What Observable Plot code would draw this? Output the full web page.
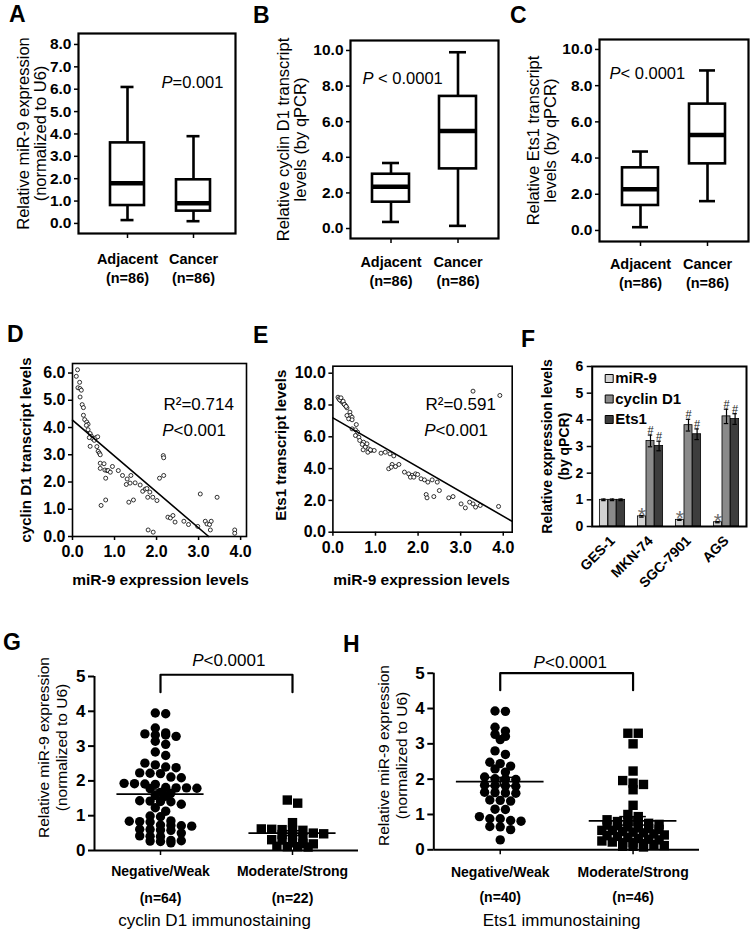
<!DOCTYPE html>
<html><head><meta charset="utf-8">
<script src="https://cdn.jsdelivr.net/npm/d3@7"></script>
<script src="https://cdn.jsdelivr.net/npm/@observablehq/plot@0.6"></script>
<style>
html,body{margin:0;padding:0;background:#fff;}
#fig{position:relative;width:754px;height:931px;overflow:hidden;background:#fff;}
.panel{position:absolute;}
.letter{position:absolute;font-family:"Liberation Sans",Arial,sans-serif;font-weight:bold;font-size:23px;line-height:23px;color:#000;}
</style></head><body><div id="fig"></div>
<script>
// ---------------- DATA ----------------
// A-C box plots
const boxCats = ["Adjacent", "Cancer"];
const boxN = ["(n=86)", "(n=86)"];
const aLow = [0.15, 0.10], aQ1 = [0.80, 0.55], aMed = [1.80, 0.90], aQ3 = [3.60, 1.95], aHigh = [6.10, 3.90];
const bLow = [0.37, 0.15], bQ1 = [1.48, 3.35], bMed = [2.34, 5.48], bQ3 = [3.05, 7.42], bHigh = [3.68, 9.90];
const cLow = [0.18, 1.62], cQ1 = [1.38, 3.68], cMed = [2.28, 5.27], cQ3 = [3.46, 6.98], cHigh = [4.36, 8.84];
const aTicks = [0, 1, 2, 3, 4, 5, 6, 7, 8];
const bcTicks = [0, 2, 4, 6, 8, 10];

// D scatter (miR-9 vs cyclin D1)
const dX = [0.12,0.09,0.17,0.13,0.18,0.21,0.18,0.23,0.26,0.26,0.29,0.34,0.37,0.33,0.37,0.42,0.45,0.48,0.40,0.52,0.56,0.60,
  0.42,0.58,0.61,0.64,0.66,0.66,0.75,0.66,0.77,0.82,0.85,0.90,0.95,0.79,1.09,1.19,1.30,1.39,1.28,1.37,1.49,1.61,1.67,1.73,
  1.77,1.84,1.91,2.01,1.79,2.07,2.17,2.16,2.17,0.68,0.79,1.34,1.45,2.27,2.33,2.39,2.44,2.65,2.76,3.04,3.16,3.20,3.26,3.30,
  3.28,2.98,3.44,1.80,1.92,3.86,3.86];
const dY = [6.12,5.88,5.66,5.46,5.43,5.37,5.12,4.84,4.73,4.45,4.29,4.20,4.12,4.08,3.92,3.78,3.68,3.59,3.63,3.53,3.63,3.66,
  3.31,3.30,3.13,3.06,3.00,2.69,2.67,2.50,2.44,2.42,2.42,2.36,2.57,2.14,2.42,2.24,2.11,2.24,1.91,1.96,1.97,1.89,1.66,1.74,
  1.76,1.63,1.44,1.32,1.44,2.14,2.24,2.97,2.89,1.14,1.34,1.26,1.34,0.71,0.68,0.77,0.53,0.56,0.44,1.56,0.56,0.46,0.44,0.56,
  0.24,0.37,1.44,0.24,0.16,0.24,0.12];
const dFitX = [0, 3.24], dFitY = [4.27, 0];
const dTicksX = [0, 1, 2, 3, 4], dTicksY = [0, 1, 2, 3, 4, 5, 6];

// E scatter (miR-9 vs Ets1)
const eX = [0.12,0.14,0.18,0.22,0.26,0.29,0.33,0.16,0.19,0.24,0.27,0.31,0.40,0.41,0.45,0.37,0.45,0.33,0.55,0.45,0.53,0.58,
  0.53,0.61,0.63,0.72,0.69,0.80,0.76,0.84,0.90,0.97,0.71,0.82,0.88,1.13,1.23,1.34,1.43,3.29,3.92,
  1.31,1.39,1.47,1.55,1.37,1.68,1.78,1.86,1.94,1.99,1.82,1.90,2.07,2.15,2.23,2.33,2.45,2.19,2.21,2.37,2.50,2.72,2.82,3.01,
  3.11,3.21,3.29,3.35,3.46,3.89];
const eY = [8.49,8.39,8.28,8.18,8.07,7.97,7.82,8.32,8.45,8.24,8.03,7.91,7.55,7.34,7.23,7.13,7.07,7.34,6.77,6.50,6.44,6.29,
  6.08,5.97,5.77,5.66,5.52,5.56,5.35,5.24,5.14,5.14,5.18,5.03,5.18,4.97,5.03,4.93,4.80,8.87,8.60,
  3.99,4.26,4.13,4.26,4.09,3.78,3.67,3.57,3.67,3.63,3.46,3.46,3.36,3.29,3.15,3.29,3.15,2.37,2.16,2.24,2.62,2.16,2.24,1.78,
  1.53,1.89,1.78,1.58,1.68,1.62];
const eFitX = [0, 4.21], eFitY = [7.19, 0.68];
const eTicksX = [0, 1, 2, 3, 4], eTicksY = [0, 2, 4, 6, 8, 10];

// F grouped bars
const fGroups = ["GES-1", "MKN-74", "SGC-7901", "AGS"];
const fSeries = ["miR-9", "cyclin D1", "Ets1"];
const fColors = ["#d2d2d2", "#8a8a8a", "#3d3d3d"];
const fMir9 = [1.00, 0.38, 0.25, 0.16], fMir9Err = [0.03, 0.03, 0.02, 0.02];
const fCcnd1 = [1.00, 3.21, 3.80, 4.13], fCcnd1Err = [0.03, 0.22, 0.22, 0.27];
const fEts1 = [1.00, 3.02, 3.46, 4.03], fEts1Err = [0.03, 0.18, 0.20, 0.20];
const fMir9Sig = ["", "*", "*", "*"];
const fOtherSig = ["", "#", "#", "#"];
const fTicks = [0, 1, 2, 3, 4, 5, 6];

// G / H scatter dot plots
const ghCats = ["Negative/Weak", "Moderate/Strong"];
const gN = ["(n=64)", "(n=22)"];
const hN = ["(n=40)", "(n=46)"];
const gNeg = [3.95,3.93,3.52,3.38,3.35,3.32,3.32,3.28,3.14,3.05,2.83,2.73,2.51,2.46,2.40,2.38,2.23,2.22,2.21,2.11,
  2.09,1.93,1.92,1.91,1.90,1.81,1.80,1.80,1.79,1.78,1.67,1.65,1.58,1.56,1.43,1.42,1.41,1.40,1.33,1.23,
  1.13,0.99,0.97,0.85,0.84,0.83,0.82,0.73,0.72,0.71,0.70,0.61,0.60,0.59,0.58,0.50,0.42,0.41,0.40,0.29,
  0.28,0.27,0.26,0.22];
const gPos = [1.45,1.36,0.80,0.62,0.61,0.60,0.59,0.58,0.50,0.48,0.46,0.45,0.35,0.31,0.30,0.22,0.20,0.19,0.12,0.11,0.11,0.10];
const hNeg = [3.93,3.92,3.47,3.36,3.27,3.21,3.12,2.80,2.70,2.48,2.44,2.37,2.29,2.20,2.06,2.01,2.00,1.99,1.83,1.82,
  1.81,1.80,1.63,1.62,1.61,1.60,1.41,1.40,1.38,1.15,1.14,0.94,0.88,0.88,0.83,0.81,0.66,0.65,0.57,0.28];
const hPos = [3.30,3.30,3.00,2.23,1.96,1.89,1.85,1.70,1.26,1.00,0.94,0.85,0.80,0.80,0.78,0.75,0.72,0.70,0.68,0.65,
  0.62,0.60,0.58,0.55,0.55,0.52,0.50,0.48,0.45,0.42,0.40,0.38,0.35,0.32,0.30,0.28,0.25,0.22,0.20,0.20,
  0.18,0.15,0.12,0.10,0.10,0.08];
const gMean = [1.62, 0.50], gSem = [0.12, 0.07];
const hMean = [1.93, 0.82], hSem = [0.12, 0.12];
const gBracket = [5.05, 4.55], hBracket = [5.00, 4.52];
const ghTicks = [0, 1, 2, 3, 4, 5];

// ---------------- RENDER ----------------
const FONT = "'Liberation Sans', Arial, Helvetica, sans-serif";
const baseStyle = {background: "transparent", fontFamily: FONT, color: "#000", overflow: "visible"};
const fig = document.getElementById("fig");
function place(box, node) {
  const div = document.createElement("div");
  div.className = "panel";
  div.style.left = box[0] + "px"; div.style.top = box[1] + "px";
  div.style.width = box[2] + "px"; div.style.height = box[3] + "px";
  div.appendChild(node); fig.appendChild(div);
}
const id = d => d;

function boxPanel(c) {
  const rows = boxCats.map((cat, i) => ({cat, n: boxN[i], lo: c.lo[i], q1: c.q1[i], med: c.med[i], q3: c.q3[i], hi: c.hi[i]}));
  return Plot.plot({
    width: c.box[2], height: c.box[3],
    marginLeft: c.m[0], marginTop: c.m[1], marginRight: c.m[2], marginBottom: c.m[3],
    style: baseStyle,
    x: {type: "band", domain: boxCats, range: c.xr, paddingInner: c.pad, paddingOuter: 0, axis: null},
    y: {domain: c.yd, axis: null},
    marks: [
      Plot.ruleX(rows, {x: "cat", y1: "lo", y2: "q1", strokeWidth: 2.6}),
      Plot.ruleX(rows, {x: "cat", y1: "q3", y2: "hi", strokeWidth: 2.6}),
      Plot.tickY(rows, {x: "cat", y: "lo", strokeWidth: 2.6, inset: c.cap}),
      Plot.tickY(rows, {x: "cat", y: "hi", strokeWidth: 2.6, inset: c.cap}),
      Plot.barY(rows, {x: "cat", y1: "q1", y2: "q3", fill: "white", stroke: "black", strokeWidth: 2.6}),
      Plot.tickY(rows, {x: "cat", y: "med", strokeWidth: 4.5}),
      Plot.frame({strokeWidth: 2.2}),
      Plot.axisY({ticks: c.yt, tickFormat: d3.format(".1f"), tickSize: 4, tickPadding: 3, fontSize: 15.5, fontWeight: "bold", label: null, strokeWidth: 1.5}),
      Plot.axisX({tickSize: 5, tickPadding: 0, tickFormat: () => "", label: null, strokeWidth: 1.5}),
      Plot.text(rows, {x: "cat", text: d => d.cat + "\n" + d.n, frameAnchor: "bottom", lineAnchor: "top", dy: c.xlDy, lineHeight: 1.3, fontSize: 14.5, fontWeight: "bold"}),
      Plot.text([c.title], {text: id, frameAnchor: "left", rotate: -90, dx: c.tDx, textAnchor: "middle", lineAnchor: "middle", fontSize: 16.5, lineHeight: 1.03}),
      Plot.text(["P"], {text: id, frameAnchor: "top-left", dx: c.p[0], dy: c.p[1], textAnchor: "end", lineAnchor: "middle", fontStyle: "italic", fontSize: 16.5}),
      Plot.text([c.pText], {text: id, frameAnchor: "top-left", dx: c.p[0], dy: c.p[1], textAnchor: "start", lineAnchor: "middle", fontSize: 16.5})
    ]
  });
}

place([0, 0, 250, 300], boxPanel({box: [0, 0, 250, 300], m: [78, 33, 15, 67], xr: [110, 210], pad: 0.485,
  yd: [-0.45, 8.49], yt: aTicks, cap: 10.5, lo: aLow, q1: aQ1, med: aMed, q3: aQ3, hi: aHigh, xlDy: 17,
  title: "Relative miR-9 expression\n(normalized to U6)", tDx: -46, p: [94, 49], pText: "=0.001"}));
place([250, 0, 250, 300], boxPanel({box: [250, 0, 250, 300], m: [100, 40, 2, 62], xr: [121.5, 225.5], pad: 0.448,
  yd: [-0.56, 10.56], yt: bcTicks, cap: 10, lo: bLow, q1: bQ1, med: bMed, q3: bQ3, hi: bHigh, xlDy: 15,
  title: "Relative cyclin D1 transcript\nlevels (by qPCR)", tDx: -58.5, p: [23, 38], pText: " < 0.0001"}));
place([500, 0, 254, 300], boxPanel({box: [500, 0, 254, 300], m: [99, 39, 6, 59], xr: [121, 225], pad: 0.47,
  yd: [-0.61, 10.55], yt: bcTicks, cap: 10, lo: cLow, q1: cQ1, med: cMed, q3: cQ3, hi: cHigh, xlDy: 14,
  title: "Relative Ets1 transcript\nlevels (by qPCR)", tDx: -57.5, p: [21, 34], pText: "< 0.0001"}));

function scatterPanel(c) {
  const pts = c.xs.map((x, i) => ({x, y: c.ys[i]}));
  const fit = c.fx.map((x, i) => ({x, y: c.fy[i]}));
  return Plot.plot({
    width: c.box[2], height: c.box[3],
    marginLeft: c.m[0], marginTop: c.m[1], marginRight: c.m[2], marginBottom: c.m[3],
    style: baseStyle,
    x: {domain: c.xd, axis: null},
    y: {domain: c.yd, axis: null},
    marks: [
      Plot.dot(pts, {x: "x", y: "y", r: 2, stroke: "black", strokeWidth: 0.8, fill: "white"}),
      Plot.line(fit, {x: "x", y: "y", strokeWidth: 1.6}),
      Plot.frame({strokeWidth: 1.6}),
      Plot.axisY({ticks: c.yt, tickFormat: d3.format(".1f"), tickSize: 4, tickPadding: 3, fontSize: 16, fontWeight: "bold", label: null, strokeWidth: 1.5}),
      Plot.axisX({ticks: c.xt, tickFormat: d3.format(".1f"), tickSize: 4, tickPadding: 5, fontSize: 16, fontWeight: "bold", label: null, strokeWidth: 1.5}),
      Plot.text(["miR-9 expression levels"], {text: id, frameAnchor: "bottom", lineAnchor: "middle", dx: c.xtDx, dy: c.xtDy, fontSize: 15.5, fontWeight: "bold"}),
      Plot.text([c.title], {text: id, frameAnchor: "left", rotate: -90, dx: c.tDx, dy: c.tDy, textAnchor: "middle", lineAnchor: "middle", fontSize: 15, fontWeight: "bold"}),
      Plot.text([c.r2], {text: id, frameAnchor: "top-left", dx: c.r[0], dy: c.r[1], textAnchor: "start", lineAnchor: "middle", fontSize: 17}),
      Plot.text(["P"], {text: id, frameAnchor: "top-left", dx: c.p[0], dy: c.p[1], textAnchor: "end", lineAnchor: "middle", fontStyle: "italic", fontSize: 17}),
      Plot.text(["<0.001"], {text: id, frameAnchor: "top-left", dx: c.p[0], dy: c.p[1], textAnchor: "start", lineAnchor: "middle", fontSize: 17})
    ]
  });
}

place([0, 300, 250, 300], scatterPanel({box: [0, 300, 250, 300], m: [72, 63, 4, 64], xd: [0, 4.14], yd: [0, 6.35],
  xs: dX, ys: dY, fx: dFitX, fy: dFitY, xt: dTicksX, yt: dTicksY, xtDx: 1, xtDy: 44,
  title: "cyclin D1 transcript levels", tDx: -46, tDy: 0, r2: "R²=0.714", r: [91, 41], p: [101, 67]}));
place([250, 300, 270, 300], scatterPanel({box: [250, 300, 270, 300], m: [82.4, 65.7, 8.3, 68.3], xd: [0, 4.21], yd: [0, 10.44],
  xs: eX, ys: eY, fx: eFitX, fy: eFitY, xt: eTicksX, yt: eTicksY, xtDx: -1, xtDy: 48,
  title: "Ets1 transcript levels", tDx: -51.4, tDy: -4, r2: "R²=0.591", r: [92.6, 38.3], p: [102.6, 64.3]}));

// F
(function () {
  const vals = [fMir9, fCcnd1, fEts1], errs = [fMir9Err, fCcnd1Err, fEts1Err];
  const box = [520, 300, 234, 300], m = [71.7, 66, 8, 74];
  const step = (box[2] - m[0] - m[2]) / fGroups.length;
  const barW = 8.6, ins = (step - barW) / 2;
  const marks = [], legend = [];
  fSeries.forEach((s, j) => {
    const rows = fGroups.map((g, i) => ({g, v: vals[j][i], e: errs[j][i], sig: j === 0 ? fMir9Sig[i] : fOtherSig[i]}));
    const dx = (j - 1) * barW;
    marks.push(
      Plot.barY(rows, {x: "g", y: "v", fill: fColors[j], stroke: "black", strokeWidth: 0.8, insetLeft: ins, insetRight: ins, dx}),
      Plot.ruleX(rows, {x: "g", y1: d => d.v - d.e, y2: d => d.v + d.e, dx, strokeWidth: 1.2}),
      Plot.tickY(rows, {x: "g", y: d => d.v + d.e, dx, inset: ins + 1.8, strokeWidth: 1.2}),
      Plot.tickY(rows, {x: "g", y: d => d.v - d.e, dx, inset: ins + 1.8, strokeWidth: 1.2}),
      Plot.text(rows.filter(d => d.sig), {x: "g", y: d => d.v + d.e, text: "sig", dx, dy: j === 0 ? 6 : -1,
        lineAnchor: "bottom", fontSize: j === 0 ? 21 : 11, fill: j === 0 ? "#6a6a6a" : "#222"})
    );
    legend.push(
      Plot.dot([s], {frameAnchor: "top-left", dx: 17, dy: 12 + j * 20.5, symbol: "square", r: 4.5, fill: fColors[j], stroke: "black", strokeWidth: 1}),
      Plot.text([s], {text: id, frameAnchor: "top-left", dx: 23, dy: 12 + j * 20.5, textAnchor: "start", lineAnchor: "middle", fontSize: 15, fontWeight: "bold"})
    );
  });
  place(box, Plot.plot({
    width: box[2], height: box[3], marginLeft: m[0], marginTop: m[1], marginRight: m[2], marginBottom: m[3],
    style: baseStyle,
    x: {type: "band", domain: fGroups, padding: 0, axis: null},
    y: {domain: [0, 6], axis: null},
    marks: [
      ...marks,
      ...legend,
      Plot.frame({strokeWidth: 2}),
      Plot.axisY({ticks: fTicks, tickFormat: d3.format("d"), tickSize: 5, tickPadding: 4, fontSize: 14, fontWeight: "bold", label: null, strokeWidth: 1.5}),
      Plot.axisX({tickRotate: -45, tickSize: 0, tickPadding: 12, fontSize: 14, fontWeight: "bold", label: null}),
      Plot.text(["Relative expression levels\n(by qPCR)"], {text: id, frameAnchor: "left", rotate: -90, dx: -37.2, textAnchor: "middle", lineAnchor: "middle", fontSize: 14, fontWeight: "bold", lineHeight: 1.2})
    ]
  }));
})();

// G / H : rows of points (points of similar value laid side by side, centred)
function rowLayout(vals, pxY, binPx, spacing) {
  const order = d3.range(vals.length).sort((a, b) => vals[b] - vals[a]);
  const rows = [];
  for (const i of order) {
    const row = rows[rows.length - 1];
    if (row && (vals[row[0]] - vals[i]) * pxY <= binPx) row.push(i); else rows.push([i]);
  }
  const xs = new Array(vals.length);
  for (const row of rows) row.forEach((i, k) => { xs[i] = (k - (row.length - 1) / 2) * spacing; });
  return xs;
}

function dotPanel(c) {
  const xd = [-0.5, 1.5], yd = [0, 5];
  const pxY = (c.box[3] - c.m[1] - c.m[3]) / (yd[1] - yd[0]);
  const pxX = (c.box[2] - c.m[0] - c.m[2]) / (xd[1] - xd[0]);
  const groups = [c.neg, c.pos];
  const pts = groups.map((vals, gi) => {
    const offs = rowLayout(vals, pxY, 5.2, 10.4);
    return vals.map((v, k) => ({v, x: gi + offs[k] / pxX}));
  });
  const stats = ghCats.map((cat, i) => ({i, cat, n: c.n[i], mean: c.mean[i], sem: c.sem[i]}));
  const br = [{x: 0, y: c.br[1]}, {x: 0, y: c.br[0]}, {x: 1, y: c.br[0]}, {x: 1, y: c.br[1]}];
  return Plot.plot({
    width: c.box[2], height: c.box[3],
    marginLeft: c.m[0], marginTop: c.m[1], marginRight: c.m[2], marginBottom: c.m[3],
    style: baseStyle,
    x: {domain: xd, axis: null},
    y: {domain: yd, axis: null},
    marks: [
      Plot.dot(pts[0], {x: "x", y: "v", r: 4.7, fill: "black", symbol: "circle"}),
      Plot.dot(pts[1], {x: "x", y: "v", r: 5.3, fill: "black", symbol: "square"}),
      Plot.ruleY(stats, {y: "mean", x1: d => d.i - 0.33, x2: d => d.i + 0.33, strokeWidth: 1.6}),
      Plot.ruleX(stats, {x: "i", y1: d => d.mean - d.sem, y2: d => d.mean + d.sem, strokeWidth: 1.5}),
      Plot.ruleY(stats, {y: d => d.mean + d.sem, x1: d => d.i - 0.1, x2: d => d.i + 0.1, strokeWidth: 1.5}),
      Plot.ruleY(stats, {y: d => d.mean - d.sem, x1: d => d.i - 0.1, x2: d => d.i + 0.1, strokeWidth: 1.5}),
      Plot.ruleX([xd[0]], {y1: yd[0], y2: yd[1], strokeWidth: 2}),
      Plot.ruleY([yd[0]], {x1: xd[0], x2: xd[1], strokeWidth: 2}),
      Plot.line(br, {x: "x", y: "y", strokeWidth: 2.2}),
      Plot.axisY({ticks: ghTicks, tickFormat: d3.format("d"), tickSize: 6, tickPadding: 3, fontSize: 17, fontWeight: "bold", label: null, strokeWidth: 2}),
      Plot.axisX({ticks: [0, 1], tickSize: 5, tickFormat: () => "", label: null, strokeWidth: 1.5}),
      Plot.text(stats, {x: "i", text: "cat", frameAnchor: "bottom", lineAnchor: "middle", dy: c.lDy[0], fontSize: 14, fontWeight: "bold"}),
      Plot.text(stats, {x: "i", text: "n", frameAnchor: "bottom", lineAnchor: "middle", dy: c.lDy[1], fontSize: 14, fontWeight: "bold"}),
      Plot.text([c.sub], {text: id, frameAnchor: "bottom", lineAnchor: "middle", dx: c.subDx, dy: c.lDy[2], fontSize: 17}),
      Plot.text(["Relative miR-9 expression\n(normalized to U6)"], {text: id, frameAnchor: "left", rotate: -90, dx: c.tDx, dy: c.tDy, textAnchor: "middle", lineAnchor: "middle", fontSize: 15.5, lineHeight: 1.2}),
      Plot.text(["P"], {text: id, frameAnchor: "top", dx: c.p[0], dy: c.p[1], textAnchor: "end", lineAnchor: "middle", fontStyle: "italic", fontSize: 17}),
      Plot.text(["<0.0001"], {text: id, frameAnchor: "top", dx: c.p[0], dy: c.p[1], textAnchor: "start", lineAnchor: "middle", fontSize: 17})
    ]
  });
}

place([0, 600, 374, 331], dotPanel({box: [0, 600, 374, 331], m: [94, 76, 16, 81], neg: gNeg, pos: gPos, n: gN,
  mean: gMean, sem: gSem, br: gBracket, lDy: [20.7, 48, 70], sub: "cyclin D1 immunostaining", subDx: -12,
  tDx: -42.5, tDy: -16, p: [-23, -16]}));
place([374, 600, 380, 331], dotPanel({box: [374, 600, 380, 331], m: [59.3, 72.7, 55, 81.7], neg: hNeg, pos: hPos, n: hN,
  mean: hMean, sem: hSem, br: hBracket, lDy: [22.4, 47.4, 70.7], sub: "Ets1 immunostaining", subDx: -5,
  tDx: -41.8, tDy: -6, p: [-21.7, -11]}));

// panel letters
const letters = [["A", 9, 22], ["B", 253, 23], ["C", 510, 23], ["D", 7, 342], ["E", 253, 343], ["F", 521, 347], ["G", 3, 650], ["H", 343, 652]];
for (const [t, x, base] of letters) {
  const el = document.createElement("div");
  el.className = "letter"; el.textContent = t;
  el.style.left = x + "px"; el.style.top = (base - 19.5) + "px";
  fig.appendChild(el);
}
</script></body></html>
